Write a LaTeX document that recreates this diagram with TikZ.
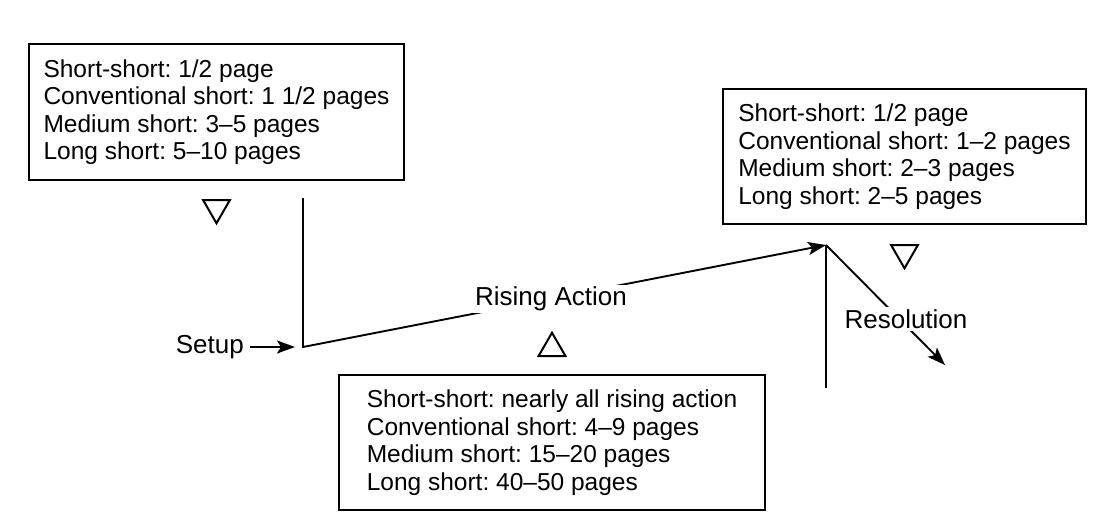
\documentclass[tikz,border=0pt]{standalone}
\usepackage{fontspec}
\setmainfont{Liberation Sans}
\usetikzlibrary{positioning,arrows.meta,shapes.geometric}

\begin{document}
\begin{tikzpicture}[
  x=1pt, y=-1pt,
  font=\fontsize{24.5}{27.5}\selectfont\frenchspacing,
  infobox/.style={draw, line width=2pt, anchor=north west, align=left},
  lbl/.style={font=\fontsize{26}{30}\selectfont, fill=white, inner sep=2pt},
  tri/.style={draw, line width=2pt, regular polygon, regular polygon sides=3, minimum size=31pt, inner sep=0pt},
  curve/.style={line width=1.9pt},
  arr/.style={-{Stealth[length=18pt,width=13pt,inset=4pt]}}
]
  \useasboundingbox (0,0) rectangle (1097,525);
  % page counts per part
  \node[infobox, minimum width=375pt, minimum height=136pt] (setupbox) at (28,43)
    {Short-short: 1/2 page\\Conventional short: 1 1/2 pages\\Medium short: 3–5 pages\\Long short: 5–10 pages};
  \node[infobox, minimum width=363pt, minimum height=135pt] (resbox) at (722,88)
    {Short-short: 1/2 page\\Conventional short: 1–2 pages\\Medium short: 2–3 pages\\Long short: 2–5 pages};
  \node[infobox, minimum width=426pt, minimum height=135pt] (risebox) at (338,374)
    {Short-short: nearly all rising action\\Conventional short: 4–9 pages\\Medium short: 15–20 pages\\Long short: 40–50 pages};
  \node[tri, shape border rotate=180, below=18pt of setupbox] (setuptri) {};
  \node[tri, shape border rotate=180, below=19pt of resbox] (restri) {};
  \node[tri, above=17pt of risebox] (risetri) {};
  % story line
  \coordinate (tick) at (303,198);
  \coordinate (base) at (303,347);
  \coordinate (peak) at (826,245);
  \coordinate (foot) at (826,388);
  \coordinate (fall) at (945,365);
  \draw[curve, arr] (tick) -- (base) -- (peak);
  \draw[curve] (peak) -- (foot);
  \draw[curve, arr] (peak) -- (fall);
  \node[lbl, anchor=east] (setup) at (246,347) {Setup};
  \node[lbl] (rising) at (551,299) {Rising Action};
  \node[lbl] (resolution) at (906,319) {Resolution};
  \draw[curve, arr] ([xshift=4pt]setup.east) -- ([xshift=-8pt]base);
\end{tikzpicture}
\end{document}
